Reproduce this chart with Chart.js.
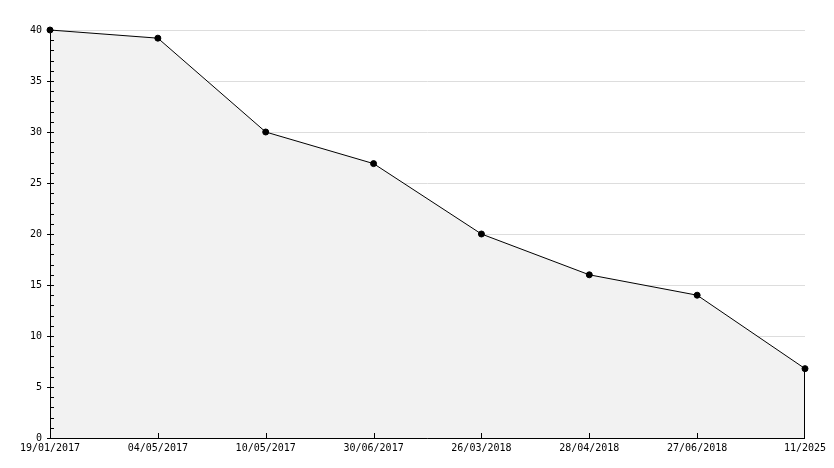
<!DOCTYPE html>
<html>
<head>
<meta charset="utf-8">
<script src="https://cdn.jsdelivr.net/npm/chart.js@4/dist/chart.umd.min.js"></script>
<style>
  html, body { margin: 0; padding: 0; background: #fff; }
  #wrap { width: 834px; height: 468px; }
</style>
</head>
<body>
<div id="wrap"><canvas id="lineChart" width="834" height="468"></canvas></div>
<script>
// dates on the x axis and the value at each
const dates = ['19/01/2017', '04/05/2017', '10/05/2017', '30/06/2017', '26/03/2018', '28/04/2018', '27/06/2018', '11/2025'];
const values = [40, 39.2, 30, 26.9, 20, 16, 14, 6.8];
const yMin = 0;
const yMax = 40;
const yMajor = 5;

const font = { family: 'DejaVu Sans Mono', size: 10 };

// little tick marks like the original: major ones cross the y axis, minor ones sit inside
const tickMarks = {
  id: 'tickMarks',
  afterDatasetsDraw(chart) {
    const ctx = chart.ctx;
    const x = chart.scales.x;
    const y = chart.scales.y;
    const area = chart.chartArea;
    ctx.save();
    ctx.strokeStyle = '#000';
    ctx.lineWidth = 1;
    ctx.beginPath();
    for (let v = yMin; v <= yMax; v++) {
      const py = Math.round(y.getPixelForValue(v)) + 0.5;
      const major = v % yMajor === 0;
      ctx.moveTo(area.left - (major ? 3 : 0), py);
      ctx.lineTo(area.left + 4, py);
    }
    for (let i = 1; i < dates.length - 1; i++) {
      const px = Math.round(x.getPixelForValue(i)) + 0.5;
      ctx.moveTo(px, area.bottom);
      ctx.lineTo(px, area.bottom - 5);
    }
    // axes
    ctx.moveTo(area.left + 0.5, area.top + 3);
    ctx.lineTo(area.left + 0.5, area.bottom + 0.5);
    ctx.lineTo(area.right, area.bottom + 0.5);
    // the filled area is closed on the right by a vertical line
    const last = dates.length - 1;
    const lx = Math.round(x.getPixelForValue(last)) - 0.5;
    ctx.moveTo(lx, y.getPixelForValue(values[last]) + 3);
    ctx.lineTo(lx, area.bottom + 0.5);
    ctx.stroke();
    ctx.restore();
  }
};

const ctx = document.getElementById('lineChart').getContext('2d');
const lineChart = new Chart(ctx, {
  type: 'line',
  data: {
    labels: dates,
    datasets: [{
      data: values,
      borderColor: '#000',
      borderWidth: 1,
      backgroundColor: '#f2f2f2',
      fill: 'origin',
      tension: 0,
      clip: false,
      pointStyle: 'circle',
      pointRadius: 3,
      pointBorderWidth: 1,
      pointBackgroundColor: '#000',
      pointBorderColor: '#000'
    }]
  },
  plugins: [tickMarks],
  options: {
    responsive: false,
    animation: false,
    layout: { padding: { top: 30, right: 29, left: 0, bottom: 0 } },
    plugins: {
      legend: { display: false },
      tooltip: { enabled: false }
    },
    scales: {
      x: {
        type: 'category',
        offset: false,
        grid: { display: false, drawTicks: false },
        border: { display: false },
        ticks: {
          color: '#000',
          font: font,
          maxRotation: 0,
          autoSkip: false,
          padding: 4
        },
        afterFit: (scale) => { scale.height = 30; }
      },
      y: {
        min: yMin,
        max: yMax,
        grid: {
          color: '#dddddd',
          drawTicks: false
        },
        border: { display: false },
        ticks: {
          stepSize: yMajor,
          color: '#000',
          font: font,
          padding: 8
        },
        afterFit: (scale) => { scale.width = 50; }
      }
    }
  }
});
</script>
</body>
</html>
